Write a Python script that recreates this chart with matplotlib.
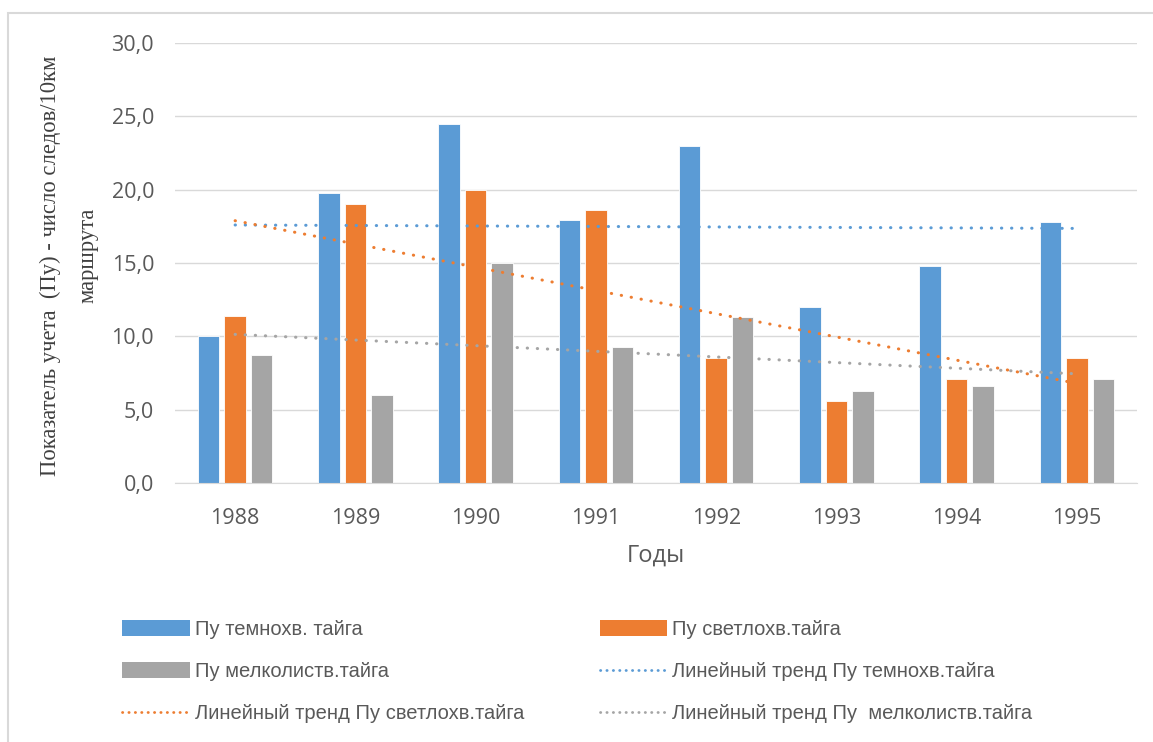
import numpy as np
import matplotlib
matplotlib.use("Agg")
import matplotlib.pyplot as plt
from matplotlib.lines import Line2D
from matplotlib.patches import Patch, Rectangle
from matplotlib import font_manager as fm

years = ["1988", "1989", "1990", "1991", "1992", "1993", "1994", "1995"]
dark_taiga = [10.0, 19.8, 24.5, 17.9, 23.0, 12.0, 14.8, 17.8]
light_taiga = [11.4, 19.0, 20.0, 18.6, 8.5, 5.6, 7.1, 8.5]
leaf_taiga = [8.7, 6.0, 15.0, 9.3, 11.3, 6.3, 6.6, 7.1]

series_names = ["Пу темнохв. тайга", "Пу светлохв.тайга", "Пу мелколиств.тайга"]
trend_names = ["Линейный тренд Пу темнохв.тайга",
               "Линейный тренд Пу светлохв.тайга",
               "Линейный тренд Пу  мелколиств.тайга"]
COLORS = ["#5B9BD5", "#ED7D31", "#A5A5A5"]

names = {f.name for f in fm.fontManager.ttflist}
LEG_FONT = "Liberation Sans" if "Liberation Sans" in names else "DejaVu Sans"
TICK_FONT = "Open Sans" if "Open Sans" in names else "DejaVu Sans"

W, H = 1153, 742
fig = plt.figure(figsize=(W / 100, H / 100), dpi=100)
ax = fig.add_axes([175 / W, 1 - 483 / H, (1137 - 175) / W, (483 - 43) / H])

x = np.arange(len(years))
offsets = [-0.22, 0.0, 0.22]
data = [dark_taiga, light_taiga, leaf_taiga]
for vals, off, c in zip(data, offsets, COLORS):
    ax.bar(x + off, vals, width=0.18, color=c, edgecolor="white", linewidth=0.6, zorder=2)

# linear trend lines fitted on each series
for vals, c in zip(data, COLORS):
    k, b = np.polyfit(x, vals, 1)
    ax.plot(x, k * x + b, color=c, linewidth=2.2, linestyle=(0, (0.1, 3.2)),
            dash_capstyle="round", zorder=3)

ax.set_xlim(-0.5, len(years) - 0.5)
ax.set_ylim(0, 30)
ax.set_yticks(np.arange(0, 31, 5))
ax.set_yticklabels([f"{v:.1f}".replace(".", ",") for v in np.arange(0, 31, 5)])
ax.set_xticks(x)
ax.set_xticklabels(years)
ax.grid(axis="y", color="#D9D9D9", linewidth=1.0, zorder=0)
ax.set_axisbelow(True)
for s in ["top", "right", "left"]:
    ax.spines[s].set_visible(False)
ax.spines["bottom"].set_color("#D9D9D9")
ax.tick_params(length=0, colors="#595959", labelsize=15.5)
ax.tick_params(axis="y", pad=15)
ax.tick_params(axis="x", pad=18)
for lab in ax.get_xticklabels() + ax.get_yticklabels():
    lab.set_fontfamily(TICK_FONT)

fig.text(656 / W, 1 - 556 / H, "Годы", ha="center", va="center",
         fontsize=17, color="#595959", family=TICK_FONT)
fig.text(50 / W, 1 - 266 / H, "Показатель учета  (Пу) - число следов/10км",
         rotation=90, ha="center", va="center",
         fontsize=16.3, color="#404040", family="Liberation Serif")
fig.text(88 / W, 1 - 255 / H, "маршрута",
         rotation=90, ha="center", va="center",
         fontsize=16.3, color="#404040", family="Liberation Serif")

handles = [
    Patch(facecolor=COLORS[0], label=series_names[0]),
    Patch(facecolor=COLORS[2], label=series_names[2]),
    Line2D([], [], color=COLORS[1], lw=2, ls=(0, (0.1, 2.2)), dash_capstyle="round",
           label=trend_names[1]),
    Patch(facecolor=COLORS[1], label=series_names[1]),
    Line2D([], [], color=COLORS[0], lw=2, ls=(0, (0.1, 2.2)), dash_capstyle="round",
           label=trend_names[0]),
    Line2D([], [], color=COLORS[2], lw=2, ls=(0, (0.1, 2.2)), dash_capstyle="round",
           label=trend_names[2]),
]
leg = fig.legend(handles=handles, ncol=2, loc="upper left",
                 bbox_to_anchor=(104 / W, 1 - 602 / H), frameon=False,
                 prop={"family": LEG_FONT, "size": 14.5}, labelcolor="#595959",
                 handlelength=3.35, handleheight=0.85, handletextpad=0.25,
                 columnspacing=3.75, labelspacing=1.15)

fig.patches.append(Rectangle((8 / W, -0.1), 1.2, 1 - 13 / H + 0.1,
                             transform=fig.transFigure, fill=False,
                             edgecolor="#D9D9D9", linewidth=1.5))

fig.savefig("out.png", dpi=100, facecolor="white")
